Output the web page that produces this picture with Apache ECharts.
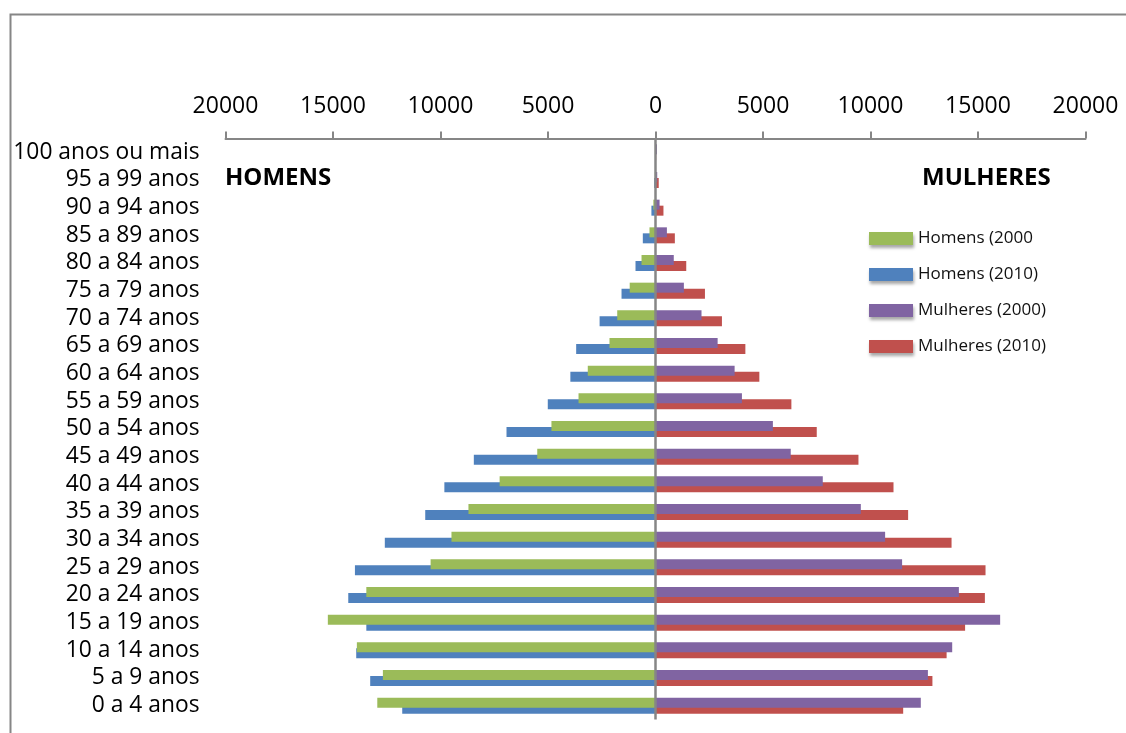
<!DOCTYPE html>
<html>
<head>
<meta charset="utf-8">
<script src="https://cdn.jsdelivr.net/npm/echarts@6/dist/echarts.min.js"></script>
<style>
html,body{margin:0;padding:0;background:#fff;}
#chart{width:1126px;height:733px;}
</style>
</head>
<body>
<div id="chart"></div>
<script>
// Categories, bottom to top
const categories = ['0 a 4 anos','5 a 9 anos','10 a 14 anos','15 a 19 anos','20 a 24 anos','25 a 29 anos','30 a 34 anos','35 a 39 anos','40 a 44 anos','45 a 49 anos','50 a 54 anos','55 a 59 anos','60 a 64 anos','65 a 69 anos','70 a 74 anos','75 a 79 anos','80 a 84 anos','85 a 89 anos','90 a 94 anos','95 a 99 anos','100 anos ou mais'];
const homens2000 = [12940,12680,13890,15240,13450,10460,9490,8700,7250,5500,4840,3580,3150,2140,1780,1200,650,280,100,30,10];
const homens2010 = [11780,13270,13920,13450,14290,13980,12590,10710,9820,8450,6930,5010,3960,3690,2600,1580,930,590,190,60,10];
const mulheres2000 = [12340,12670,13800,16030,14110,11470,10680,9550,7780,6290,5460,4020,3680,2890,2140,1320,850,530,190,80,70];
const mulheres2010 = [11520,12880,13540,14400,15320,15350,13770,11750,11070,9440,7500,6320,4830,4180,3090,2300,1430,900,370,150,30];
const seriesNames = ['Homens (2000','Homens (2010)','Mulheres (2000)','Mulheres (2010)'];
const xTicks = [-20000,-15000,-10000,-5000,0,5000,10000,15000,20000];

const colors = ['#9BBB59','#4F81BD','#8064A2','#C0504D'];
const neg = a => a.map(v => -v);

const chart = echarts.init(document.getElementById('chart'), null, {renderer:'canvas'});
const barCommon = {
  type:'bar', barWidth:10, barGap:'-40%',
  emphasis:{disabled:true}
};
chart.setOption({
  animation:false,
  color:colors,
  grid:{left:225.5, right:40.5, top:138.5, height:581, containLabel:false},
  xAxis:{
    type:'value', position:'top', min:xTicks[0], max:xTicks[xTicks.length-1], interval:5000,
    axisLine:{show:true, lineStyle:{color:'#868686', width:2}},
    axisTick:{show:true, inside:false, length:7, lineStyle:{color:'#868686', width:2}},
    splitLine:{show:false},
    axisLabel:{margin:21, fontFamily:'Open Sans', fontSize:23, color:'#000',
      formatter:v => String(Math.abs(v))}
  },
  yAxis:{
    type:'category', data:categories,
    axisLine:{show:false}, axisTick:{show:false},
    axisLabel:{interval:0, margin:26, padding:[4,0,0,0], fontFamily:'Open Sans', fontSize:22.8, color:'#000'}
  },
  legend:{
    orient:'vertical', left:869, top:228.5, padding:0,
    itemWidth:44, itemHeight:13, itemGap:16, icon:'rect',
    data:seriesNames,
    itemStyle:{shadowBlur:3, shadowColor:'rgba(0,0,0,0.35)', shadowOffsetX:1, shadowOffsetY:3},
    textStyle:{fontFamily:'Open Sans', fontSize:17, lineHeight:20, color:'#111'}
  },
  graphic:[
    {type:'rect', left:8, top:12, shape:{width:1300, height:900}, style:{fill:'none', stroke:'#868686', lineWidth:2}, silent:true},
    {type:'text', left:225, top:166, style:{text:'HOMENS', font:'bold 24px "Open Sans"', fill:'#000'}},
    {type:'text', left:922, top:166, style:{text:'MULHERES', font:'bold 24px "Open Sans"', fill:'#000'}}
  ],
  series:[
    Object.assign({}, barCommon, {name:seriesNames[0], stack:'a2000', z:3, data:neg(homens2000)}),
    Object.assign({}, barCommon, {name:seriesNames[1], stack:'a2010', z:2, data:neg(homens2010)}),
    Object.assign({}, barCommon, {name:seriesNames[2], stack:'a2000', z:3, data:mulheres2000}),
    Object.assign({}, barCommon, {name:seriesNames[3], stack:'a2010', z:2, data:mulheres2010,
      markLine:{silent:true, symbol:'none', label:{show:false}, z:10,
        lineStyle:{color:'#868686', width:2.5, type:'solid'},
        data:[{xAxis:0}]}})
  ]
});
</script>
</body>
</html>
